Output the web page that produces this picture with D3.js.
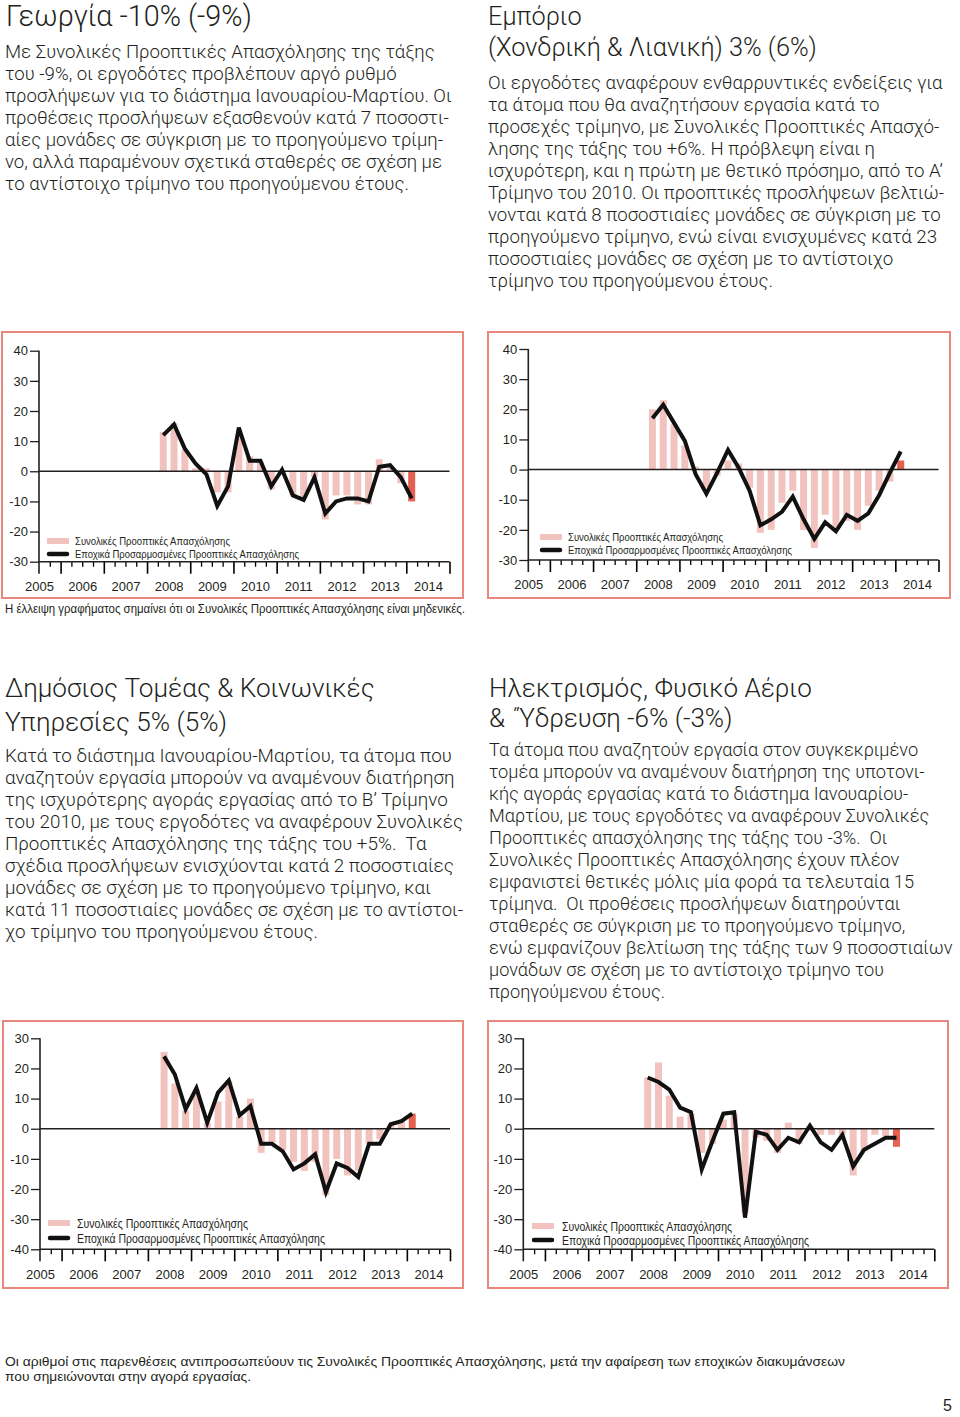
<!DOCTYPE html>
<html>
<head>
<meta charset="utf-8">
<script src="https://cdn.jsdelivr.net/npm/d3@7"></script>
<style>
body { margin: 0; background: #fff; }
svg text { font-family: "Liberation Sans", Arial, sans-serif; fill: #231f20; white-space: pre; }
svg text.copy { font-family: Roboto, "Liberation Sans", Arial, sans-serif; font-weight: 300; }
</style>
</head>
<body>
<svg id="page" width="960" height="1417"></svg>
<script>
// quarters shown in every chart
var quarters = ["2008Q2","2008Q3","2008Q4","2009Q1","2009Q2","2009Q3","2009Q4","2010Q1",
                "2010Q2","2010Q3","2010Q4","2011Q1","2011Q2","2011Q3","2011Q4","2012Q1",
                "2012Q2","2012Q3","2012Q4","2013Q1","2013Q2","2013Q3","2013Q4","2014Q1"];
var years = [2005, 2006, 2007, 2008, 2009, 2010, 2011, 2012, 2013, 2014];
var yTicksHigh = [-30, -20, -10, 0, 10, 20, 30, 40];
var yTicksLow = [-40, -30, -20, -10, 0, 10, 20, 30];

// net employment outlook (bars) and seasonally adjusted (line)
var georgiaBars = [13, 16, 7, 1, 1, -7, -7, 12, 5, 3, -6, 0, -8, -9, -2, -16, -8, -8, -11, -11, 4, 1, -4, -10];
var georgiaLine = [12, 15.5, 7.5, 2.5, -1, -11.5, -5, 14.5, 3.5, 3.5, -5, 0.5, -8, -9.5, -2, -14, -10, -9, -9, -10, 1.5, 2, -2, -9];
var commerceBars = [20, 23, 15, 8, 1, -6, -2, 3, 2, -6, -21, -20, -11, -7, -20, -26, -15, -20, -17, -20, -12, -7, -4, 3];
var commerceLine = [17, 21.5, 15.5, 9.5, -1.5, -8, -1, 6.5, 0.5, -7, -18.5, -16.5, -14, -9, -16.5, -23, -17.5, -20.5, -15, -17, -14.5, -8.5, -1, 6];
var publicBars = [25.5, 15, 6, 13, 2, 9, 16, 4, 10, -8, -4.5, -7, -11, -14, -11, -22, -10, -15.5, -14, -5, -3.5, 1, 3, 5];
var publicLine = [24, 18, 6.5, 13.5, 2, 12, 16, 4.5, 7.5, -5, -5, -7.5, -13.5, -11.5, -8.5, -21, -11.5, -13, -16, -5, -5, 1.5, 2.5, 5];
var utilityBars = [17, 22, 11, 4, 5, -8, -5, 3, 5, -28, -3, -4, -8, 2, -5, 1, -2, -2, -2, -15.5, -7.5, -2, -2.5, -6];
var utilityLine = [17, 15.5, 13, 7, 5.5, -13.5, -4, 5, 5.5, -29.5, -1, -2, -7, -3, -4.5, 1, -4.5, -7, -2, -12.5, -7, -5, -3, -3];

var legendLabels = ["Συνολικές Προοπτικές Απασχόλησης", "Εποχικά Προσαρμοσμένες Προοπτικές Απασχόλησης"];

var georgiaTitle = ["Γεωργία -10% (-9%)"];
var georgiaText = [
  "Με Συνολικές Προοπτικές Απασχόλησης της τάξης",
  "του -9%, οι εργοδότες προβλέπουν αργό ρυθμό",
  "προσλήψεων για το διάστημα Ιανουαρίου-Μαρτίου. Οι",
  "προθέσεις προσλήψεων εξασθενούν κατά 7 ποσοστι-",
  "αίες μονάδες σε σύγκριση με το προηγούμενο τρίμη-",
  "νο, αλλά παραμένουν σχετικά σταθερές σε σχέση με",
  "το αντίστοιχο τρίμηνο του προηγούμενου έτους."
];
var commerceTitle = ["Εμπόριο", "(Χονδρική & Λιανική) 3% (6%)"];
var commerceText = [
  "Οι εργοδότες αναφέρουν ενθαρρυντικές ενδείξεις για",
  "τα άτομα που θα αναζητήσουν εργασία κατά το",
  "προσεχές τρίμηνο, με Συνολικές Προοπτικές Απασχό-",
  "λησης της τάξης του +6%. Η πρόβλεψη είναι η",
  "ισχυρότερη, και η πρώτη με θετικό πρόσημο, από το Α’",
  "Τρίμηνο του 2010. Οι προοπτικές προσλήψεων βελτιώ-",
  "νονται κατά 8 ποσοστιαίες μονάδες σε σύγκριση με το",
  "προηγούμενο τρίμηνο, ενώ είναι ενισχυμένες κατά 23",
  "ποσοστιαίες μονάδες σε σχέση με το αντίστοιχο",
  "τρίμηνο του προηγούμενου έτους."
];
var publicTitle = ["Δημόσιος Τομέας & Κοινωνικές", "Υπηρεσίες 5% (5%)"];
var publicText = [
  "Κατά το διάστημα Ιανουαρίου-Μαρτίου, τα άτομα που",
  "αναζητούν εργασία μπορούν να αναμένουν διατήρηση",
  "της ισχυρότερης αγοράς εργασίας από το Β’ Τρίμηνο",
  "του 2010, με τους εργοδότες να αναφέρουν Συνολικές",
  "Προοπτικές Απασχόλησης της τάξης του +5%.  Τα",
  "σχέδια προσλήψεων ενισχύονται κατά 2 ποσοστιαίες",
  "μονάδες σε σχέση με το προηγούμενο τρίμηνο, και",
  "κατά 11 ποσοστιαίες μονάδες σε σχέση με το αντίστοι-",
  "χο τρίμηνο του προηγούμενου έτους."
];
var utilityTitle = ["Ηλεκτρισμός, Φυσικό Αέριο", "& ΄Ύδρευση -6% (-3%)"];
var utilityText = [
  "Τα άτομα που αναζητούν εργασία στον συγκεκριμένο",
  "τομέα μπορούν να αναμένουν διατήρηση της υποτονι-",
  "κής αγοράς εργασίας κατά το διάστημα Ιανουαρίου-",
  "Μαρτίου, με τους εργοδότες να αναφέρουν Συνολικές",
  "Προοπτικές απασχόλησης της τάξης του -3%.  Οι",
  "Συνολικές Προοπτικές Απασχόλησης έχουν πλέον",
  "εμφανιστεί θετικές μόλις μία φορά τα τελευταία 15",
  "τρίμηνα.  Οι προθέσεις προσλήψεων διατηρούνται",
  "σταθερές σε σύγκριση με το προηγούμενο τρίμηνο,",
  "ενώ εμφανίζουν βελτίωση της τάξης των 9 ποσοστιαίων",
  "μονάδων σε σχέση με το αντίστοιχο τρίμηνο του",
  "προηγούμενου έτους."
];
var chartNote = "Η έλλειψη γραφήματος σημαίνει ότι οι Συνολικές Προοπτικές Απασχόλησης είναι μηδενικές.";
var pageNote = ["Οι αριθμοί στις παρενθέσεις αντιπροσωπεύουν τις Συνολικές Προοπτικές Απασχόλησης, μετά την αφαίρεση των εποχικών διακυμάνσεων",
                "που σημειώνονται στην αγορά εργασίας."];

var svg = d3.select("#page");
svg.append("rect").attr("width", 960).attr("height", 1417).attr("fill", "#fff");

// lines of text; font size is fitted so one line gets its printed width,
// lines that would then run past maxW are squeezed back
function textBlock(lines, x, y0, lh, fitIdx, fitW, maxW) {
  var t = svg.append("g").selectAll("text")
    .data(lines).enter().append("text")
    .attr("class", "copy")
    .attr("x", x)
    .attr("y", function(d, i) { return y0 + i * lh; })
    .attr("font-size", 20)
    .text(function(d) { return d; });
  var w = t.nodes()[fitIdx].getComputedTextLength();
  t.attr("font-size", 20 * fitW / w);
  t.each(function() {
    if (this.getComputedTextLength() > maxW) {
      d3.select(this).attr("textLength", maxW).attr("lengthAdjust", "spacingAndGlyphs");
    }
  });
}

function quarterTime(q) {
  return +q.slice(0, 4) + (+q.slice(5) - 0.5) / 4;
}

function drawChart(o) {
  svg.append("rect")
    .attr("x", o.box[0]).attr("y", o.box[1])
    .attr("width", o.box[2]).attr("height", o.box[3])
    .attr("fill", "none").attr("stroke", "#e8877d").attr("stroke-width", 2);

  var x = d3.scaleLinear().domain([2005.5, 2015]).range([o.x0, o.x1]);
  var y = d3.scaleLinear().domain(d3.extent(o.yTicks)).range([o.yB, o.yT]);
  var g = svg.append("g");

  var yAxis = g.append("g")
    .attr("transform", "translate(" + o.x0 + ",0)")
    .call(d3.axisLeft(y).tickValues(o.yTicks).tickSize(9).tickPadding(2).tickFormat(String));
  yAxis.select(".domain").remove();
  yAxis.selectAll("text").attr("font-size", 13).attr("font-family", "Liberation Sans, Arial, sans-serif").attr("fill", "#231f20");
  yAxis.selectAll("line").attr("stroke", "#231f20").attr("stroke-width", 1.3);

  g.append("line")
    .attr("x1", o.x0).attr("x2", o.x0)
    .attr("y1", o.yT).attr("y2", o.yB + 12)
    .attr("stroke", "#231f20").attr("stroke-width", 1.6);

  var bottom = g.append("g").attr("transform", "translate(0," + o.yB + ")");
  var quarterTicks = d3.range(2005.75, 2015.01, 0.25).filter(function(t) { return t % 1 !== 0; });
  var yearTicks = d3.range(2006, 2015.01, 1);
  bottom.append("g")
    .call(d3.axisBottom(x).tickValues(quarterTicks).tickSize(5).tickFormat(""))
    .call(function(a) { a.select(".domain").remove(); a.selectAll("line").attr("stroke-width", 1.3); });
  bottom.append("g")
    .call(d3.axisBottom(x).tickValues(yearTicks).tickSize(12).tickFormat(""))
    .call(function(a) { a.select(".domain").remove(); a.selectAll("line").attr("stroke-width", 1.6); });
  var lab = bottom.append("g")
    .call(d3.axisBottom(x).tickValues(years.map(function(v) { return v + 0.5; }))
      .tickSize(0).tickPadding(20).tickFormat(function(d) { return String(Math.floor(d)); }));
  lab.select(".domain").remove();
  lab.selectAll("text").attr("font-size", 13).attr("font-family", "Liberation Sans, Arial, sans-serif").attr("fill", "#231f20");
  bottom.append("line")
    .attr("x1", o.x0).attr("x2", o.x1)
    .attr("stroke", "#231f20").attr("stroke-width", 1.6);

  // bars
  g.selectAll(".bar").data(o.bars).enter().append("rect")
    .attr("class", "bar")
    .attr("x", function(d, i) { return x(quarterTime(quarters[i])) - 3.5; })
    .attr("width", 7)
    .attr("y", function(d) { return y(Math.max(0, d)); })
    .attr("height", function(d) { return Math.abs(y(d) - y(0)); })
    .attr("fill", function(d, i) { return i === o.bars.length - 1 ? "#e4604f" : "#f2c3be"; });

  // zero line
  g.append("line")
    .attr("x1", o.x0).attr("x2", o.x1)
    .attr("y1", y(0)).attr("y2", y(0))
    .attr("stroke", "#231f20").attr("stroke-width", 1.4);

  var line = d3.line()
    .x(function(d, i) { return x(quarterTime(quarters[i])); })
    .y(function(d) { return y(d); });
  g.append("path")
    .datum(o.line)
    .attr("d", line)
    .attr("fill", "none")
    .attr("stroke", "#111")
    .attr("stroke-width", 4)
    .attr("stroke-linejoin", "miter");

  // legend
  var L = o.legend;
  g.append("rect")
    .attr("x", L.x).attr("y", L.y1 - 3).attr("width", 22).attr("height", 6)
    .attr("fill", "#f2c3be");
  g.append("line")
    .attr("x1", L.x + 2).attr("x2", L.x + 20)
    .attr("y1", L.y2).attr("y2", L.y2)
    .attr("stroke", "#111").attr("stroke-width", 4.5).attr("stroke-linecap", "round");
  g.selectAll(".leg").data(legendLabels).enter().append("text")
    .attr("x", L.tx)
    .attr("y", function(d, i) { return (i ? L.y2 : L.y1) + L.size * 0.36; })
    .attr("font-size", L.size)
    .attr("textLength", function(d, i) { return L.w[i]; })
    .attr("lengthAdjust", "spacingAndGlyphs")
    .text(function(d) { return d; });
}

// text
textBlock(georgiaTitle, 6, 26, 0, 0, 246, 460);
textBlock(georgiaText, 5, 58, 22, 0, 430, 458);
textBlock(commerceTitle, 488, 25, 31, 1, 329, 460);
textBlock(commerceText, 488, 89, 21.95, 0, 455, 456);
textBlock(publicTitle, 5, 697, 34, 0, 370, 460);
textBlock(publicText, 5, 762, 22, 0, 447, 458);
textBlock(utilityTitle, 489, 697, 30, 0, 323, 460);
textBlock(utilityText, 489, 756, 22, 9, 464, 465);

svg.append("text").attr("x", 5).attr("y", 613).attr("font-size", 12.5)
  .attr("textLength", 460).attr("lengthAdjust", "spacingAndGlyphs").text(chartNote);
svg.selectAll(".pnote").data(pageNote).enter().append("text")
  .attr("x", 5).attr("y", function(d, i) { return 1366 + i * 15; })
  .attr("font-size", 13.5)
  .attr("textLength", function(d, i) { return i ? 246 : 840; })
  .attr("lengthAdjust", "spacingAndGlyphs")
  .text(function(d) { return d; });
svg.append("text").attr("x", 952).attr("y", 1411).attr("font-size", 16)
  .attr("text-anchor", "end").text("5");

// charts
drawChart({ box: [2, 332, 461, 266], x0: 39, x1: 449.5, yT: 350.7, yB: 561.7, yTicks: yTicksHigh,
  bars: georgiaBars, line: georgiaLine,
  legend: { x: 47, y1: 541, y2: 554, tx: 75, w: [155, 224], size: 11 } });
drawChart({ box: [488, 332, 462, 266], x0: 528.3, x1: 938.5, yT: 349, yB: 560, yTicks: yTicksHigh,
  bars: commerceBars, line: commerceLine,
  legend: { x: 540, y1: 537, y2: 550, tx: 568, w: [155, 224], size: 11 } });
drawChart({ box: [3, 1021, 460, 267], x0: 40, x1: 450, yT: 1038.3, yB: 1249.3, yTicks: yTicksLow,
  bars: publicBars, line: publicLine,
  legend: { x: 48, y1: 1223, y2: 1238, tx: 77, w: [171, 248], size: 12.5 } });
drawChart({ box: [488, 1021, 460, 267], x0: 523.3, x1: 934.3, yT: 1038.3, yB: 1249.3, yTicks: yTicksLow,
  bars: utilityBars, line: utilityLine,
  legend: { x: 532, y1: 1226, y2: 1240, tx: 562, w: [170, 247], size: 12.5 } });
</script>
</body>
</html>
